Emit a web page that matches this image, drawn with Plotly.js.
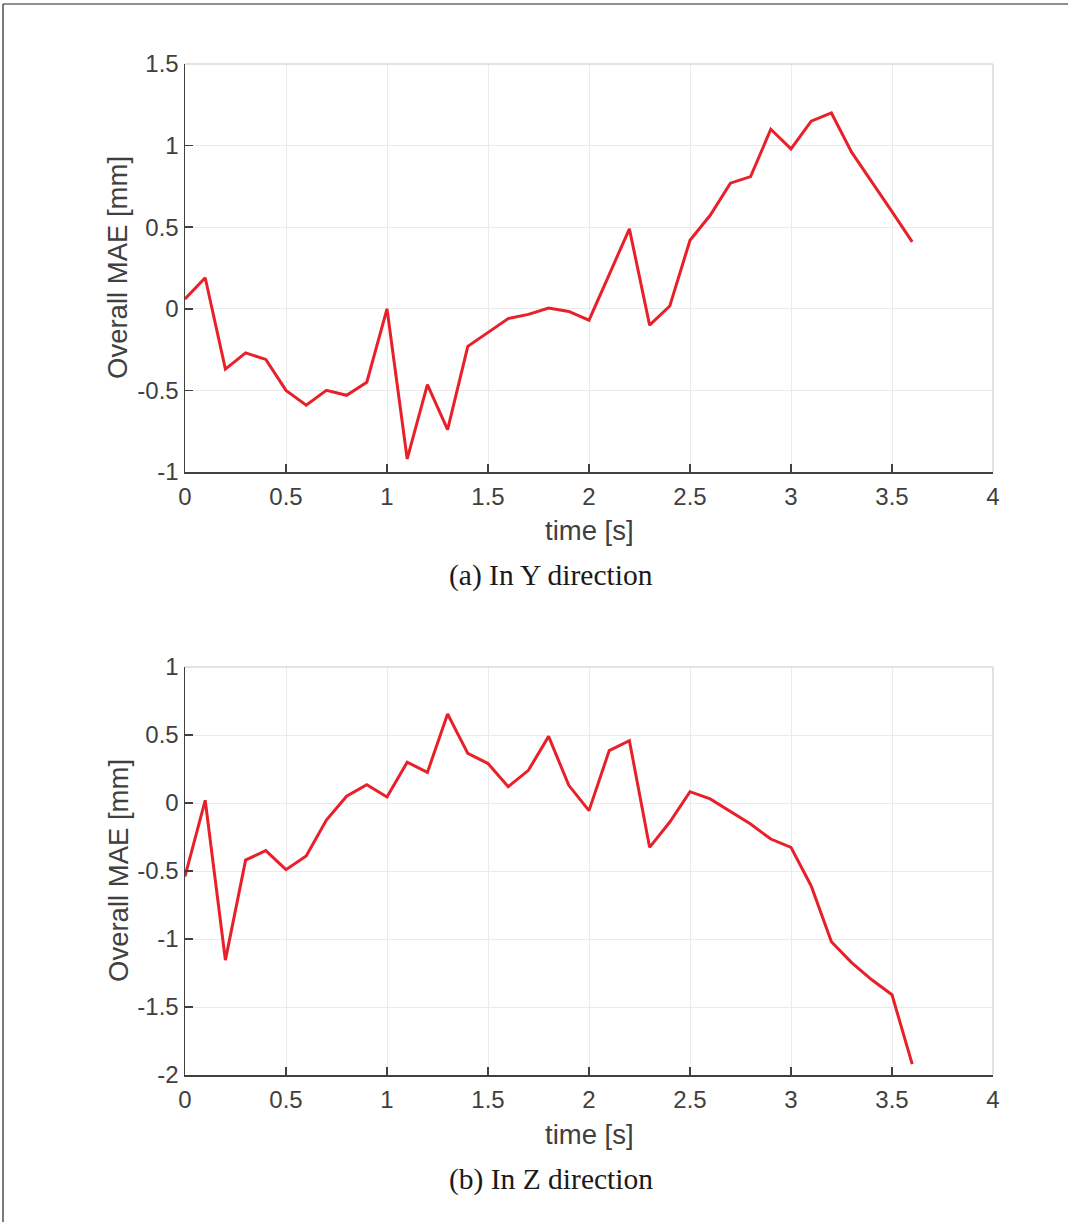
<!DOCTYPE html>
<html>
<head>
<meta charset="utf-8">
<script src="https://cdn.plot.ly/plotly-3.0.1.min.js"></script>
<style>
html,body{margin:0;padding:0;background:#fff;}
#chart{width:1068px;height:1222px;}
</style>
</head>
<body>
<div id="chart"></div>
<script>
const timeS = [0,0.1,0.2,0.3,0.4,0.5,0.6,0.7,0.8,0.9,1.0,1.1,1.2,1.3,1.4,1.5,1.6,1.7,1.8,1.9,2.0,2.1,2.2,2.3,2.4,2.5,2.6,2.7,2.8,2.9,3.0,3.1,3.2,3.3,3.4,3.5,3.6];
const maeY = [0.06,0.19,-0.37,-0.27,-0.31,-0.50,-0.59,-0.50,-0.53,-0.45,0.00,-0.92,-0.465,-0.74,-0.23,-0.146,-0.06,-0.034,0.005,-0.016,-0.07,0.21,0.49,-0.10,0.017,0.42,0.573,0.77,0.81,1.10,0.98,1.15,1.20,0.96,0.78,0.595,0.41];
const maeZ = [-0.54,0.02,-1.155,-0.42,-0.35,-0.49,-0.39,-0.125,0.05,0.135,0.044,0.30,0.225,0.654,0.365,0.29,0.12,0.24,0.49,0.13,-0.056,0.385,0.458,-0.326,-0.14,0.083,0.03,-0.064,-0.155,-0.265,-0.326,-0.61,-1.02,-1.174,-1.30,-1.41,-1.92];
const xTicks = [0,0.5,1,1.5,2,2.5,3,3.5,4];
const xTickText = ['0','0.5','1','1.5','2','2.5','3','3.5','4'];
const yTicksTop = [-1,-0.5,0,0.5,1,1.5];
const yTickTextTop = ['-1','-0.5','0','0.5','1','1.5'];
const yTicksBot = [-2,-1.5,-1,-0.5,0,0.5,1];
const yTickTextBot = ['-2','-1.5','-1','-0.5','0','0.5','1'];
const xTitle = 'time [s]';
const yTitle = 'Overall MAE [mm]';
const captions = ['(a) In Y direction','(b) In Z direction'];

const W = 1068, H = 1222;
const xDom = [185/W, 993/W];
const topDom = [1-472/H, 1-64/H];
const botDom = [1-1075/H, 1-667/H];
const red = '#e8202a';
const dark = '#404040';
const tickFont = {family:'Liberation Sans, Arial, sans-serif', size:24, color:dark};

function xax(anchor){
  return {domain:xDom, anchor:anchor, range:[0,4], tickvals:xTicks, ticktext:xTickText,
    showgrid:true, gridcolor:'#ebebeb', gridwidth:1, zeroline:false,
    showline:true, linecolor:dark, linewidth:1.5, ticks:'inside', ticklen:8, tickcolor:dark, tickwidth:1.5,
    tickfont:tickFont, ticklabelstandoff:3, fixedrange:true};
}
function yax(dom, range, tv, tt, anchor){
  return {domain:dom, anchor:anchor, range:range, tickvals:tv, ticktext:tt,
    showgrid:true, gridcolor:'#ebebeb', gridwidth:1, zeroline:false,
    showline:true, linecolor:dark, linewidth:1.5, ticks:'inside', ticklen:8, tickcolor:dark, tickwidth:1.5,
    tickfont:tickFont, fixedrange:true};
}

const traces = [
  {x:timeS, y:maeY, xaxis:'x', yaxis:'y', mode:'lines', line:{color:red, width:3}, hoverinfo:'skip'},
  {x:timeS, y:maeZ, xaxis:'x2', yaxis:'y2', mode:'lines', line:{color:red, width:3}, hoverinfo:'skip'}
];

const light = '#d9d9d9';
function boxShapes(xr, yr){
  return [
    {type:'line', xref:xr+' domain', yref:yr+' domain', x0:0, x1:1, y0:1, y1:1, line:{color:light, width:1.5}, layer:'above'},
    {type:'line', xref:xr+' domain', yref:yr+' domain', x0:1, x1:1, y0:0, y1:1, line:{color:light, width:1.5}, layer:'above'}
  ];
}

const axTitleFont = {family:'Liberation Sans, Arial, sans-serif', size:27.5, color:dark};
const capFont = {family:'Liberation Serif, Times New Roman, serif', size:29.5, color:'#1a1a1a'};
const annotations = [
  {text:xTitle, xref:'paper', yref:'paper', x:589/W, y:1-530/H, showarrow:false, font:axTitleFont, xanchor:'center', yanchor:'middle'},
  {text:yTitle, xref:'paper', yref:'paper', x:118/W, y:1-268/H, showarrow:false, font:axTitleFont, textangle:-90, xanchor:'center', yanchor:'middle'},
  {text:captions[0], xref:'paper', yref:'paper', x:551/W, y:1-575/H, showarrow:false, font:capFont, xanchor:'center', yanchor:'middle'},
  {text:xTitle, xref:'paper', yref:'paper', x:589/W, y:1-1134/H, showarrow:false, font:axTitleFont, xanchor:'center', yanchor:'middle'},
  {text:yTitle, xref:'paper', yref:'paper', x:118/W, y:1-871/H, showarrow:false, font:axTitleFont, textangle:-90, xanchor:'center', yanchor:'middle'},
  {text:captions[1], xref:'paper', yref:'paper', x:551/W, y:1-1179/H, showarrow:false, font:capFont, xanchor:'center', yanchor:'middle'}
];

const frame = [
  {type:'line', xref:'paper', yref:'paper', x0:3/W, x1:3/W, y0:0, y1:1-4/H, line:{color:'#222', width:1.2}},
  {type:'line', xref:'paper', yref:'paper', x0:3/W, x1:1, y0:1-4/H, y1:1-4/H, line:{color:'#222', width:1.2}}
];

const layout = {
  width:W, height:H, margin:{l:0,r:0,t:0,b:0},
  paper_bgcolor:'#fff', plot_bgcolor:'#fff', showlegend:false,
  xaxis:xax('y'), yaxis:yax(topDom,[-1,1.5],yTicksTop,yTickTextTop,'x'),
  xaxis2:xax('y2'), yaxis2:yax(botDom,[-2,1],yTicksBot,yTickTextBot,'x2'),
  shapes: boxShapes('x','y').concat(boxShapes('x2','y2')).concat(frame),
  annotations:annotations
};

Plotly.newPlot('chart', traces, layout, {staticPlot:true, displayModeBar:false});
</script>
</body>
</html>
